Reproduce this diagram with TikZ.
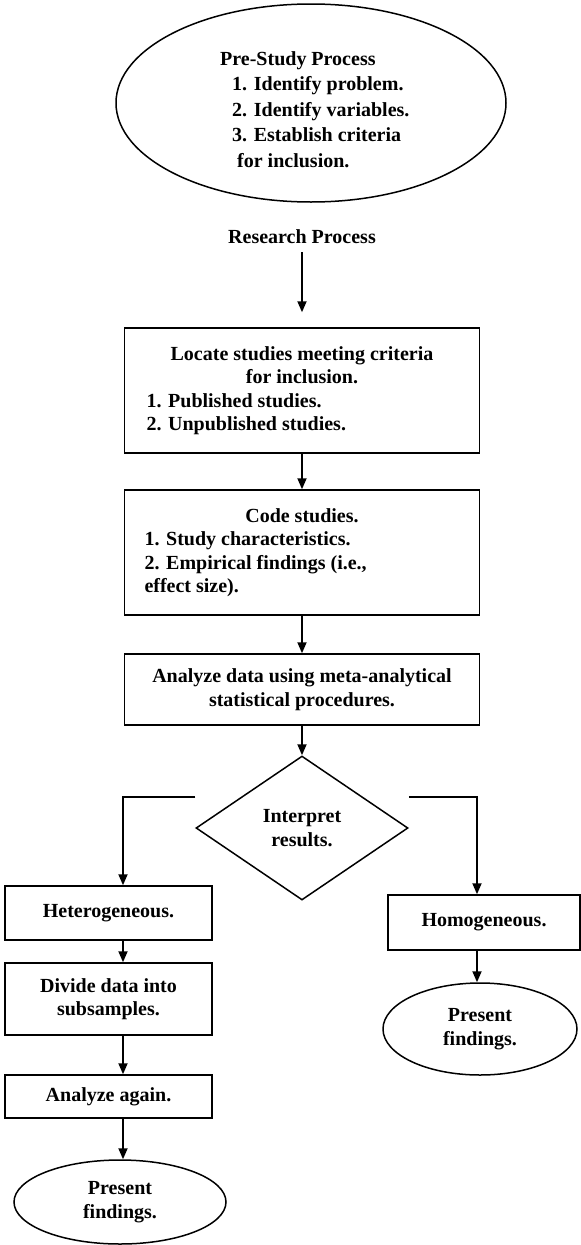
\documentclass[tikz,border=0pt]{standalone}
\usepackage{fontspec}
\setmainfont{Liberation Serif}
\usetikzlibrary{shapes.geometric,arrows.meta,calc}
\begin{document}
\begin{tikzpicture}[x=1pt,y=-1pt,
  every node/.style={font=\bfseries\fontsize{20}{23.5}\selectfont},
  box/.style={draw,line width=1.5pt,rectangle,inner sep=0pt},
  oval/.style={draw,line width=1.5pt,ellipse,inner sep=0pt,align=center},
  dia/.style={draw,line width=1.5pt,diamond,inner sep=0pt,align=center},
  conn/.style={line width=1.8pt,-{Triangle[length=11pt,width=9pt]}}]
\useasboundingbox (0,0) rectangle (581,1245);
% top ellipse
\node[oval,minimum width=390pt,minimum height=198pt] (pre) at (311,103) {};
\node[align=left,anchor=north west,inner sep=0pt,font=\bfseries\fontsize{20}{25.5}\selectfont] (pretext) at (220,51)
  {Pre-Study Process\\
   \hspace*{12pt}1. Identify problem.\\
   \hspace*{12pt}2. Identify variables.\\
   \hspace*{12pt}3. Establish criteria\\
   \hspace*{17pt}for inclusion.};
\node[inner sep=0pt] (rp) at (302,237) {Research Process};
% main boxes
\node[box,minimum width=355pt,minimum height=125pt] (b1) at (302,390.5)
  {\parbox{311pt}{\centering Locate studies meeting criteria\\ for inclusion.\par
   \raggedright 1. Published studies.\\ 2. Unpublished studies.}};
\node[box,minimum width=355pt,minimum height=125pt] (b2) at (302,552.5)
  {\parbox{315pt}{\centering Code studies.\par
   \raggedright 1. Study characteristics.\\ 2. Empirical findings (i.e.,\\ effect size).}};
\node[box,minimum width=355pt,minimum height=71pt,align=center] (b3) at (302,689.5)
  {Analyze data using meta-analytical\\ statistical procedures.};
\node[dia,minimum width=212pt,minimum height=144pt] (d) at (302,828) {Interpret\\ results.};
% left column
\node[box,minimum width=207pt,minimum height=54pt] (het) at (108.5,913) {Heterogeneous.};
\node[box,minimum width=207pt,minimum height=72pt,align=center] (div) at (108.5,999) {Divide data into\\ subsamples.};
\node[box,minimum width=207pt,minimum height=43pt] (again) at (108.5,1096.5) {Analyze again.};
\node[oval,minimum width=212pt,minimum height=84pt] (lell) at (120,1202) {Present\\ findings.};
% right column
\node[box,minimum width=192pt,minimum height=55pt] (hom) at (484,922.5) {Homogeneous.};
\node[oval,minimum width=194pt,minimum height=92pt] (rell) at (480,1029) {Present\\ findings.};
\coordinate (lc) at (123,797);
\coordinate (rc) at (477,797);
% connectors
\draw[conn,shorten <=8pt,shorten >=15pt] (rp) -- (b1);
\draw[conn] (b1) -- (b2);
\draw[conn] (b2) -- (b3);
\draw[conn] (b3) -- (d);
\draw[conn] (d.west |- lc) -- (lc) -- (lc |- het.north);
\draw[conn] (d.east |- rc) -- (rc) -- (rc |- hom.north);
\draw[conn] (lc |- het.south) -- (lc |- div.north);
\draw[conn] (lc |- div.south) -- (lc |- again.north);
\draw[conn] (lc |- again.south) -- (lc |- lell.north);
\draw[conn] (rc |- hom.south) -- (rc |- rell.north);
\end{tikzpicture}
\end{document}
